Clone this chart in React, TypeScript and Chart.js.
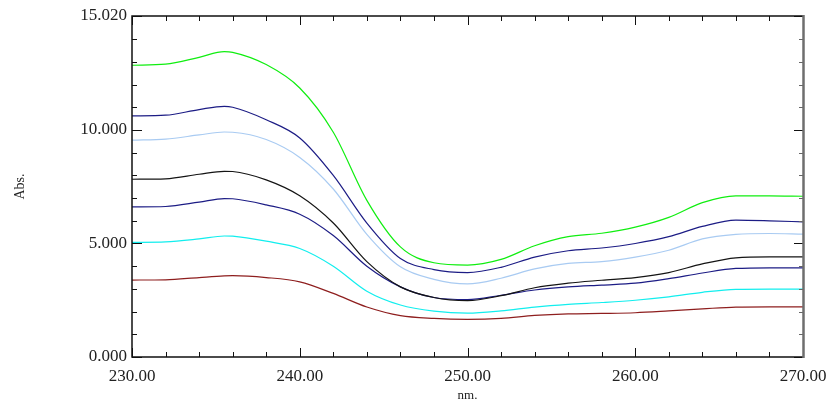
import React, { useEffect, useRef } from "react";
import { Chart, registerables } from "chart.js";

Chart.register(...registerables);

const wavelengths = [230, 232, 234, 235.5, 236, 238, 240, 242, 244, 246, 248, 250, 252, 254, 256, 258, 260, 262, 264, 266, 268, 270];

const greenSeries = [12.85, 12.9, 13.2, 13.45, 13.42, 12.88, 11.85, 9.9, 6.9, 4.85, 4.15, 4.05, 4.3, 4.9, 5.3, 5.45, 5.72, 6.15, 6.8, 7.1, 7.1, 7.08];
const navyTopSeries = [10.62, 10.65, 10.9, 11.04, 11.0, 10.45, 9.65, 8.0, 5.9, 4.34, 3.85, 3.72, 3.95, 4.4, 4.68, 4.8, 5.0, 5.3, 5.75, 6.03, 6.0, 5.95];
const lightBlueSeries = [9.55, 9.6, 9.78, 9.91, 9.9, 9.58, 8.79, 7.4, 5.4, 3.97, 3.42, 3.22, 3.47, 3.88, 4.12, 4.2, 4.4, 4.7, 5.2, 5.4, 5.44, 5.41];
const blackSeries = [7.83, 7.85, 8.05, 8.18, 8.17, 7.8, 7.1, 5.9, 4.2, 3.09, 2.62, 2.48, 2.7, 3.05, 3.25, 3.38, 3.5, 3.72, 4.1, 4.37, 4.41, 4.41];
const navyLowSeries = [6.61, 6.63, 6.82, 6.98, 6.97, 6.7, 6.29, 5.35, 4.0, 3.09, 2.62, 2.53, 2.72, 2.95, 3.09, 3.17, 3.25, 3.45, 3.7, 3.9, 3.93, 3.93];
const cyanSeries = [5.05, 5.07, 5.2, 5.33, 5.32, 5.1, 4.78, 4.0, 2.9, 2.29, 2.02, 1.93, 2.03, 2.2, 2.32, 2.4, 2.5, 2.65, 2.85, 2.98, 2.99, 2.99];
const redSeries = [3.39, 3.4, 3.5, 3.57, 3.58, 3.5, 3.31, 2.8, 2.2, 1.82, 1.7, 1.66, 1.7, 1.83, 1.9, 1.92, 1.95, 2.03, 2.12, 2.2, 2.21, 2.21];

const yLabelValues = [0, 5, 10, 15.02];
const yMinorValues = [1, 2, 3, 4, 6, 7, 8, 9, 11, 12, 13, 14];
const xMin = 230;
const xMax = 270;
const yMin = 0;
const yMax = 15.02;

const seriesList = [
  { name: "s1", data: greenSeries, color: "#10ee10" },
  { name: "s2", data: navyTopSeries, color: "#1c1c85" },
  { name: "s3", data: lightBlueSeries, color: "#a9cbf2" },
  { name: "s4", data: blackSeries, color: "#141414" },
  { name: "s5", data: navyLowSeries, color: "#1c1c85" },
  { name: "s6", data: cyanSeries, color: "#12eeee" },
  { name: "s7", data: redSeries, color: "#8e1e1e" },
];

const serif = "'Liberation Serif', 'Times New Roman', serif";

const frameTicks = {
  id: "frameTicks",
  afterDraw(chart: any) {
    const { ctx, chartArea } = chart;
    const xs = chart.scales.x;
    const ys = chart.scales.y;
    const { left, right, top, bottom } = chartArea;
    ctx.save();
    for (let v = xMin; v <= xMax; v += 2) {
      const px = Math.round(xs.getPixelForValue(v)) + 0.5;
      const major = v % 10 === 0;
      const len = major ? 9 : 5;
      ctx.strokeStyle = "#111";
      ctx.lineWidth = 1;
      ctx.beginPath();
      ctx.moveTo(px, bottom);
      ctx.lineTo(px, bottom - len);
      ctx.moveTo(px, top);
      ctx.lineTo(px, top + len);
      ctx.stroke();
    }
    const allY = [...yLabelValues, ...yMinorValues];
    for (const v of allY) {
      const py = Math.round(ys.getPixelForValue(v)) + 0.5;
      const major = yLabelValues.includes(v);
      const len = major ? 10 : 5;
      ctx.lineWidth = 1;
      ctx.strokeStyle = "#111";
      ctx.beginPath();
      ctx.moveTo(left, py);
      ctx.lineTo(left + len, py);
      ctx.stroke();
      ctx.strokeStyle = major ? "#111" : "#666";
      ctx.beginPath();
      ctx.moveTo(right, py);
      ctx.lineTo(right - (major ? 9 : 4), py);
      ctx.stroke();
    }
    ctx.strokeStyle = "#111";
    ctx.lineWidth = 1.5;
    ctx.beginPath();
    ctx.moveTo(right, top);
    ctx.lineTo(left, top);
    ctx.lineTo(left, bottom);
    ctx.lineTo(right, bottom);
    ctx.stroke();
    ctx.strokeStyle = "#6e6e6e";
    ctx.lineWidth = 2.5;
    ctx.beginPath();
    ctx.moveTo(right + 0.5, top - 1);
    ctx.lineTo(right + 0.5, bottom + 1);
    ctx.stroke();
    ctx.restore();
  },
};

export default function App() {
  const canvasRef = useRef<HTMLCanvasElement | null>(null);

  useEffect(() => {
    document.body.style.margin = "0";
    const canvas = canvasRef.current;
    if (!canvas) return;
    const chart = new Chart(canvas, {
      type: "line",
      data: {
        datasets: seriesList.map((s) => ({
          label: s.name,
          data: wavelengths.map((w, i) => ({ x: w, y: s.data[i] })),
          borderColor: s.color,
          borderWidth: 1.2,
          pointRadius: 0,
          fill: false,
          cubicInterpolationMode: "monotone" as const,
        })),
      },
      options: {
        animation: false,
        responsive: false,
        maintainAspectRatio: false,
        layout: { padding: { top: 16, right: 28, left: 0, bottom: 0 } },
        plugins: { legend: { display: false }, tooltip: { enabled: false } },
        scales: {
          x: {
            type: "linear",
            min: xMin,
            max: xMax,
            border: { display: false },
            grid: { display: false },
            afterFit: (scale: any) => {
              scale.height = 46;
            },
            afterBuildTicks: (scale: any) => {
              const t = [];
              for (let v = xMin; v <= xMax; v += 10) t.push({ value: v });
              scale.ticks = t;
            },
            ticks: {
              autoSkip: false,
              maxRotation: 0,
              padding: 1,
              color: "#222",
              font: { family: serif, size: 17 },
              callback: (v: any) => Number(v).toFixed(2),
            },
            title: {
              display: true,
              text: "nm.",
              color: "#222",
              padding: { top: 0, bottom: 0 },
              font: { family: serif, size: 13 },
            },
          },
          y: {
            type: "linear",
            min: yMin,
            max: yMax,
            border: { display: false },
            grid: { display: false },
            afterFit: (scale: any) => {
              scale.width = 132;
            },
            afterBuildTicks: (scale: any) => {
              scale.ticks = yLabelValues.map((v) => ({ value: v }));
            },
            ticks: {
              autoSkip: false,
              padding: -3,
              color: "#222",
              font: { family: serif, size: 17 },
              callback: (v: any) => Number(v).toFixed(3),
            },
            title: {
              display: true,
              text: "Abs.",
              color: "#222",
              padding: { top: 12, bottom: 0 },
              font: { family: serif, size: 14 },
            },
          },
        },
      },
      plugins: [frameTicks],
    });
    return () => chart.destroy();
  }, []);

  return (
    <div style={{ width: 831, height: 403, background: "#fff" }}>
      <canvas ref={canvasRef} width={831} height={403} style={{ display: "block" }} />
    </div>
  );
}
